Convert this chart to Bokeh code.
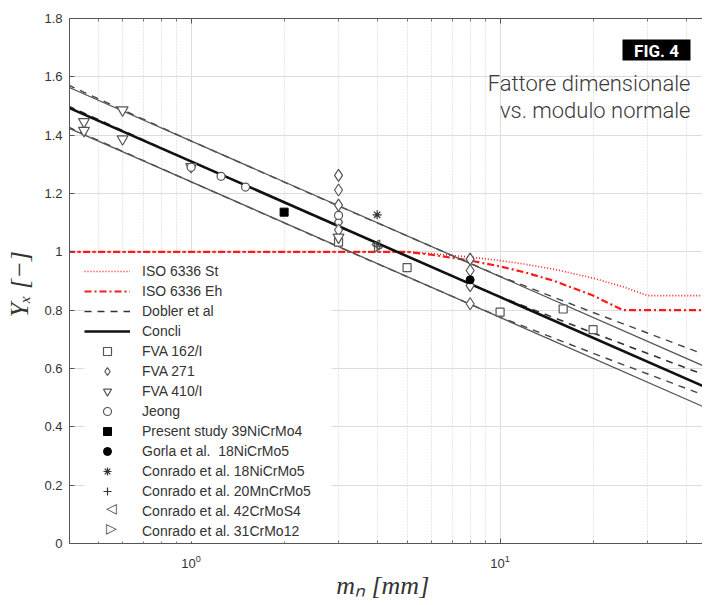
import numpy as np
from bokeh.plotting import figure
from bokeh.models import (Range1d, LogAxis, FixedTicker, Legend, LegendItem,
                          Label, BoxAnnotation)
from bokeh.embed import file_html
from bokeh.resources import INLINE

# ---------------- data ----------------
y_ticks = [0, 0.2, 0.4, 0.6, 0.8, 1.0, 1.2, 1.4, 1.6, 1.8]
y_tick_overrides = {0: "0", 1: "1"}
x_major_ticks = [1, 10]
x_minor_ticks = [0.5, 0.6, 0.7, 0.8, 0.9, 2, 3, 4, 5, 6, 7, 8, 9, 20, 30, 40]

# ISO 6336 size factor curves
iso_st_m = [0.4, 5, 6, 8, 10, 12, 15, 20, 25, 30, 60]
iso_st_y = [1.0, 1.0, 0.994, 0.982, 0.97, 0.958, 0.94, 0.91, 0.88, 0.85, 0.85]
iso_eh_m = [0.4, 5, 6, 8, 10, 12, 15, 20, 25, 60]
iso_eh_y = [1.0, 1.0, 0.99, 0.97, 0.95, 0.93, 0.90, 0.85, 0.80, 0.80]

# Concli (mean and band)
concli_m = [0.4, 50]
concli_y = [1.495, 0.520]
concli_hi = [1.565, 0.590]
concli_lo = [1.425, 0.450]

# Dobler et al (mean and band)
dobler_m = [0.4, 1, 3, 10, 20, 50]
dobler_y = [1.500, 1.310, 1.087, 0.846, 0.722, 0.563]
dobler_hi = [1.572, 1.380, 1.157, 0.916, 0.792, 0.633]
dobler_lo = [1.428, 1.240, 1.017, 0.776, 0.652, 0.493]

# experimental points
fva162_m = [3, 5, 10, 16, 20]
fva162_y = [1.033, 0.946, 0.793, 0.804, 0.733]
fva271_m = [3, 3, 3, 3, 3, 8, 8, 8, 8]
fva271_y = [1.262, 1.212, 1.160, 1.102, 1.075, 0.975, 0.936, 0.884, 0.822]
fva410_m = [0.45, 0.45, 0.6, 0.6, 1.0, 3.0]
fva410_y = [1.446, 1.416, 1.486, 1.387, 1.292, 1.050]
jeong_m = [1.0, 1.25, 1.5, 3.0]
jeong_y = [1.290, 1.259, 1.222, 1.125]
present_m = [2.0]
present_y = [1.136]
gorla_m = [8.0]
gorla_y = [0.904]
conr18_m = [4.0]
conr18_y = [1.127]
conr20_m = [4.0]
conr20_y = [1.020]
conr42_m = [4.0]
conr42_y = [1.025]
conr31_m = [4.0]
conr31_y = [1.015]

# ---------------- figure ----------------
FONT = "Liberation Sans"
TXT = "#333333"
AX = "#555555"

p = figure(frame_width=633, frame_height=525, x_axis_type="log",
           x_range=Range1d(0.404, 45.2), y_range=Range1d(0, 1.8),
           output_backend="svg", toolbar_location=None,
           min_border_left=69, min_border_right=0, min_border_top=18,
           min_border_bottom=10)
p.background_fill_color = "white"
p.border_fill_color = "white"
p.outline_line_color = None

# axes
xa = p.xaxis[0]
xa.ticker = FixedTicker(ticks=x_major_ticks, minor_ticks=x_minor_ticks)
xa.major_tick_in = 5
xa.major_tick_out = 0
xa.minor_tick_in = 3
xa.minor_tick_out = 0
xa.axis_line_color = AX
xa.major_tick_line_color = AX
xa.minor_tick_line_color = "#777777"
xa.major_label_text_font = FONT
xa.major_label_text_font_size = "13px"
xa.major_label_text_color = TXT
xa.major_label_standoff = 11
xa.axis_label = "mₙ  [mm]"
xa.axis_label_text_font = "Liberation Serif"
xa.axis_label_text_font_style = "italic"
xa.axis_label_text_font_size = "26px"
xa.axis_label_text_color = TXT
xa.axis_label_standoff = 0

ya = p.yaxis[0]
ya.ticker = FixedTicker(ticks=y_ticks)
ya.major_label_overrides = y_tick_overrides
ya.major_tick_in = 5
ya.major_tick_out = 0
ya.minor_tick_line_color = None
ya.axis_line_color = AX
ya.major_tick_line_color = AX
ya.major_label_text_font = FONT
ya.major_label_text_font_size = "13px"
ya.major_label_text_color = TXT
ya.major_label_standoff = 7
ya.axis_label = "Yₓ  [−]"
ya.axis_label_text_font = "Liberation Serif"
ya.axis_label_text_font_style = "italic"
ya.axis_label_text_font_size = "26px"
ya.axis_label_text_color = TXT
ya.axis_label_standoff = 7

top = LogAxis(ticker=FixedTicker(ticks=x_major_ticks, minor_ticks=x_minor_ticks),
              major_label_text_font_size="1px", major_label_text_alpha=0,
              major_label_standoff=0,
              major_tick_in=5, major_tick_out=0, minor_tick_in=3, minor_tick_out=0,
              axis_line_color=AX, major_tick_line_color=AX,
              minor_tick_line_color="#777777")
p.add_layout(top, "above")

# grids
p.xgrid.ticker = FixedTicker(ticks=x_major_ticks, minor_ticks=x_minor_ticks)
p.xgrid.grid_line_color = "#dddddd"
p.xgrid.minor_grid_line_color = "#cfcfcf"
p.xgrid.minor_grid_line_dash = "1 2"
p.ygrid.grid_line_color = "#dddddd"

# ---------------- lines ----------------
r_st = p.line(iso_st_m, iso_st_y, line_color="#ff1a1a", line_width=1.6, line_dash="1 2")
r_eh = p.line(iso_eh_m, iso_eh_y, line_color="#ff1a1a", line_width=2.2, line_dash="7 3 2 3")

r_dob = p.line(dobler_m, dobler_y, line_color="#333333", line_width=1.6, line_dash="7 6")
p.line(dobler_m, dobler_hi, line_color="#444444", line_width=1.4, line_dash="7 6")
p.line(dobler_m, dobler_lo, line_color="#444444", line_width=1.4, line_dash="7 6")

p.line(concli_m, concli_hi, line_color="#555555", line_width=1.3)
p.line(concli_m, concli_lo, line_color="#555555", line_width=1.3)
r_con = p.line(concli_m, concli_y, line_color="#111111", line_width=2.6)

# ---------------- markers ----------------
MK = "#555555"
r_162 = p.scatter(fva162_m, fva162_y, marker="square", size=8, line_color=MK,
                  fill_color="white", line_width=1.2)
r_271 = p.scatter(fva271_m, fva271_y, marker="diamond", size=12, line_color=MK,
                  fill_color="white", line_width=1.2)
r_410 = p.scatter(fva410_m, fva410_y, marker="inverted_triangle", size=11, line_color=MK,
                  fill_color="white", line_width=1.2)
r_jeo = p.scatter(jeong_m, jeong_y, marker="circle", size=8, line_color=MK,
                  fill_color="white", line_width=1.2)
r_pre = p.scatter(present_m, present_y, marker="square", size=8, line_color="black",
                  fill_color="black")
r_gor = p.scatter(gorla_m, gorla_y, marker="circle", size=8, line_color="black",
                  fill_color="black")
r_c18 = p.scatter(conr18_m, conr18_y, marker="asterisk", size=9, line_color="#333333",
                  line_width=1.2)
r_c20 = p.scatter(conr20_m, conr20_y, marker="cross", size=9, line_color="#333333",
                  line_width=1.2)
p.scatter(conr42_m, conr42_y, marker="triangle", angle=np.pi / 2, size=9,
          line_color=MK, fill_color=None, line_width=1.2)
p.scatter(conr31_m, conr31_y, marker="triangle", angle=-np.pi / 2, size=9,
          line_color=MK, fill_color=None, line_width=1.2)
# legend stand-ins for the sideways triangles (legend glyphs are never rotated)
r_c42 = p.scatter([], [], marker="triangle", size=9, line_alpha=0, fill_alpha=0)
r_c31 = p.scatter([], [], marker="triangle", size=9, line_alpha=0, fill_alpha=0)

# ---------------- legend ----------------
items = [
    LegendItem(label="ISO 6336 St", renderers=[r_st]),
    LegendItem(label="ISO 6336 Eh", renderers=[r_eh]),
    LegendItem(label="Dobler et al", renderers=[r_dob]),
    LegendItem(label="Concli", renderers=[r_con]),
    LegendItem(label="FVA 162/I", renderers=[r_162]),
    LegendItem(label="FVA 271", renderers=[r_271]),
    LegendItem(label="FVA 410/I", renderers=[r_410]),
    LegendItem(label="Jeong", renderers=[r_jeo]),
    LegendItem(label="Present study 39NiCrMo4", renderers=[r_pre]),
    LegendItem(label="Gorla et al.  18NiCrMo5", renderers=[r_gor]),
    LegendItem(label="Conrado et al. 18NiCrMo5", renderers=[r_c18]),
    LegendItem(label="Conrado et al. 20MnCrMo5", renderers=[r_c20]),
    LegendItem(label="Conrado et al. 42CrMoS4", renderers=[r_c42]),
    LegendItem(label="Conrado et al. 31CrMo12", renderers=[r_c31]),
]
LEG_X, LEG_Y, PAD, ROW, GW = 15, 2, 4, 20, 46
n_items = len(items)

# white panel behind the legend (the legend itself is transparent so that
# the sideways-triangle symbols below can show in its glyph column)
p.add_layout(BoxAnnotation(left=LEG_X, right=262, bottom=LEG_Y,
                           top=LEG_Y + 2 * PAD + ROW * n_items,
                           left_units="screen", right_units="screen",
                           top_units="screen", bottom_units="screen",
                           fill_color="white", fill_alpha=1, line_color=None))

legend = Legend(items=items, location=(LEG_X, LEG_Y), orientation="vertical",
                background_fill_alpha=0, border_line_color=None,
                label_text_font=FONT,
                label_text_font_size="14px", label_text_color=TXT,
                glyph_width=GW, glyph_height=ROW, label_height=ROW,
                spacing=0, padding=PAD, margin=0, label_standoff=12)
p.add_layout(legend)

gx = LEG_X + PAD + GW / 2
for idx, sym in ((12, "◁"), (13, "▷")):
    gy = LEG_Y + PAD + ROW * (n_items - 1 - idx) + ROW / 2
    p.add_layout(Label(x=gx, y=gy, x_units="screen", y_units="screen", text=sym,
                       text_align="center", text_baseline="middle",
                       text_font="DejaVu Sans", text_font_size="14px",
                       text_color="#444444"))

# ---------------- title block ----------------
p.add_layout(BoxAnnotation(left=553, right=621, top=504, bottom=483,
                           left_units="screen", right_units="screen",
                           top_units="screen", bottom_units="screen",
                           fill_color="black", fill_alpha=1, line_color=None))
p.add_layout(Label(x=587, y=493, x_units="screen", y_units="screen", text="FIG. 4",
                   text_align="center", text_baseline="middle",
                   text_font="Roboto", text_font_style="bold",
                   text_font_size="17px", text_color="white"))
p.add_layout(Label(x=621, y=460, x_units="screen", y_units="screen",
                   text="Fattore dimensionale", text_align="right",
                   text_baseline="alphabetic", text_font="Roboto Light",
                   text_font_size="22px", text_color="#3a3a3a"))
p.add_layout(Label(x=621, y=433, x_units="screen", y_units="screen",
                   text="vs. modulo normale", text_align="right",
                   text_baseline="alphabetic", text_font="Roboto Light",
                   text_font_size="22px", text_color="#3a3a3a"))

open("out.html", "w").write(file_html(p, INLINE))
